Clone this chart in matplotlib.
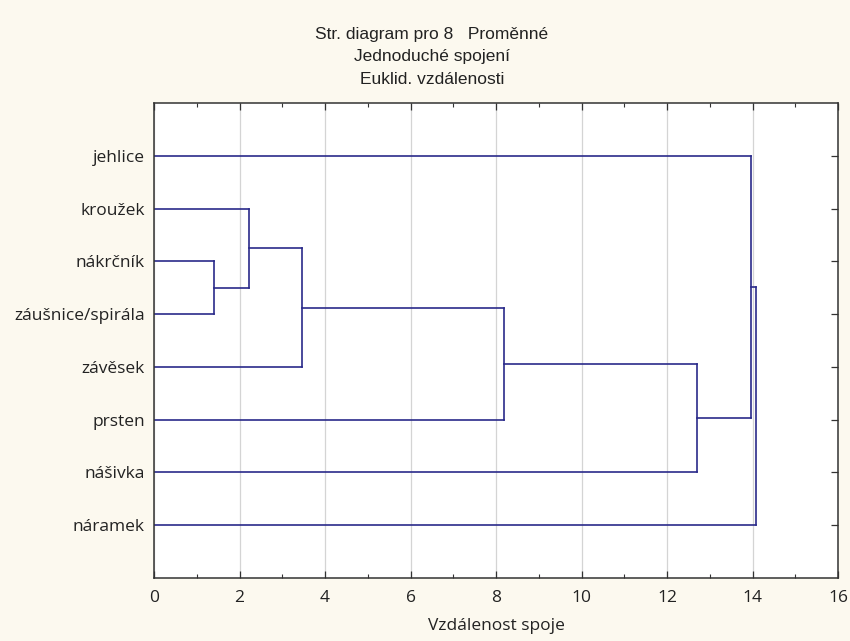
import matplotlib.pyplot as plt
from matplotlib.ticker import MultipleLocator

# leaves from top to bottom
labels = ['jehlice', 'kroužek', 'nákrčník', 'záušnice/spirála',
          'závěsek', 'prsten', 'nášivka', 'náramek']
# merges: clusters 0-7 are leaves, every merge makes a new cluster 8, 9, ...
merge_a = [2, 1, 9, 10, 11, 0, 13]
merge_b = [3, 8, 4, 5, 6, 12, 7]
heights = [1.41, 2.23, 3.47, 8.18, 12.70, 13.97, 14.09]

titles = ['Str. diagram pro 8   Proměnné', 'Jednoduché spojení',
          'Euklid. vzdálenosti']

line_col = '#2a2a8a'
bg = '#fcf9ef'

plt.rcParams['font.family'] = ['Open Sans', 'DejaVu Sans']

fig = plt.figure(figsize=(8.5, 6.41), dpi=100, facecolor=bg)
ax = fig.add_axes([0.1812, 0.0983, 0.8047, 0.741])
ax.set_facecolor('white')

# position (y) and height (x) of every cluster
ypos = [i + 1 for i in range(len(labels))]
hgt = [0.0] * len(labels)
for a, b, h in zip(merge_a, merge_b, heights):
    ax.plot([hgt[a], h], [ypos[a], ypos[a]], color=line_col, lw=1.2)
    ax.plot([hgt[b], h], [ypos[b], ypos[b]], color=line_col, lw=1.2)
    ax.plot([h, h], [ypos[a], ypos[b]], color=line_col, lw=1.2)
    ypos.append((ypos[a] + ypos[b]) / 2)
    hgt.append(h)

ax.set_xlim(0, 16)
ax.set_ylim(len(labels) + 1, 0)
ax.xaxis.set_major_locator(MultipleLocator(2))
ax.xaxis.set_minor_locator(MultipleLocator(1))
ax.set_yticks(range(1, len(labels) + 1))
ax.set_yticklabels(labels)
ax.grid(axis='x', which='major', color='#d4d4d4', lw=0.9)
ax.set_axisbelow(True)

for s in ax.spines.values():
    s.set_color('#333333')
    s.set_linewidth(1.1)

ax.tick_params(axis='x', which='major', direction='in', top=True, length=5,
               width=0.9, color='#333333', labelsize=12.5, pad=9,
               labelcolor='#222222')
ax.tick_params(axis='x', which='minor', direction='in', top=True, length=3,
               width=0.8, color='#333333')
ax.tick_params(axis='y', direction='in', left=False, right=True, length=5,
               width=0.9, color='#333333', labelsize=12.5, pad=6.5,
               labelcolor='#222222')

ax.set_xlabel('Vzdálenost spoje', fontsize=12.5, color='#222222', labelpad=8)

for i, t in enumerate(titles):
    fig.text(0.508, 1 - (34 + 22.5 * i) / 641, t, ha='center', va='center',
             fontsize=12.5, family='Liberation Sans', color='#222222')

fig.savefig('out.png', dpi=100, facecolor=bg)
